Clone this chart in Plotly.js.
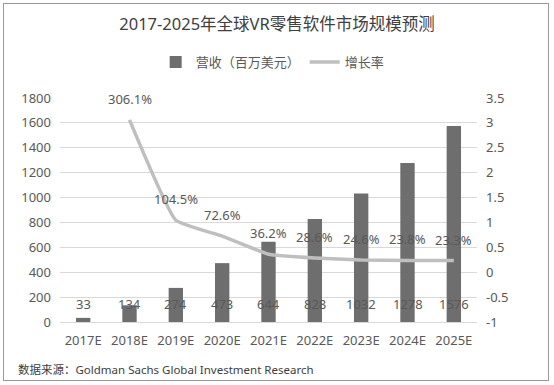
<!DOCTYPE html>
<html>
<head>
<meta charset="utf-8">
<script src="https://cdn.plot.ly/plotly-3.0.1.min.js"></script>
<style>
  body { margin: 0; background: #fff; }
  #wrap { position: relative; width: 554px; height: 385px; }
  #chart { width: 554px; height: 385px; }
  #frame { position: absolute; left: 3px; top: 3px; width: 544px; height: 376px;
           border: 1.5px solid #9a9a9a; pointer-events: none; }
</style>
</head>
<body>
<div id="wrap"><div id="chart"></div><div id="frame"></div></div>
<script>
const categories = ['2017E','2018E','2019E','2020E','2021E','2022E','2023E','2024E','2025E'];
const revenue = [33, 134, 274, 473, 644, 828, 1032, 1278, 1576];
const growth = [null, 3.061, 1.045, 0.726, 0.362, 0.286, 0.246, 0.238, 0.233];
const leftTicks = [0, 200, 400, 600, 800, 1000, 1200, 1400, 1600, 1800];
const rightTicks = [-1, -0.5, 0, 0.5, 1, 1.5, 2, 2.5, 3, 3.5];

const FONT = 'Noto Sans, Noto Sans CJK SC, sans-serif';
const TXT = '#595959';

const traces = [
  {
    type: 'bar', name: '营收（百万美元）', x: categories, y: revenue,
    marker: { color: '#6e6e6e' }, hoverinfo: 'skip'
  },
  {
    type: 'scatter', mode: 'lines', name: '增长率', x: categories, y: growth,
    yaxis: 'y2', line: { color: '#bfbfbf', width: 3.5, shape: 'spline', smoothing: 0.35 },
    connectgaps: false, hoverinfo: 'skip'
  }
];

const annotations = [];
categories.forEach((c, i) => {
  annotations.push({
    x: c, y: 0, xref: 'x', yref: 'y', yshift: 18, text: String(revenue[i]),
    showarrow: false, font: { family: FONT, size: 13, color: TXT }
  });
  if (growth[i] !== null) {
    annotations.push({
      x: c, y: growth[i], xref: 'x', yref: 'y2', yshift: 21,
      text: (growth[i] * 100).toFixed(1) + '%',
      showarrow: false, font: { family: FONT, size: 13, color: TXT }
    });
  }
});
annotations.push({
  xref: 'paper', yref: 'paper', x: -0.106, y: -0.21, xanchor: 'left', yanchor: 'middle',
  text: '数据来源：Goldman Sachs Global Investment Research', showarrow: false,
  font: { family: FONT, size: 11.5, color: '#404040' }
});

const layout = {
  width: 554, height: 385,
  margin: { l: 60, r: 77, t: 98, b: 63 },
  paper_bgcolor: '#ffffff', plot_bgcolor: '#ffffff',
  font: { family: FONT, color: TXT, size: 13 },
  title: {
    text: '2017-2025年全球VR零售软件市场规模预测',
    font: { family: FONT, size: 16.5, color: '#404040', weight: 'normal' },
    x: 0.5, xanchor: 'center', y: 0.937, yanchor: 'middle', yref: 'container'
  },
  showlegend: true,
  legend: {
    orientation: 'h', x: 0.51, xanchor: 'center', y: 1.16, yanchor: 'middle',
    font: { family: FONT, size: 13, color: TXT }, traceorder: 'normal'
  },
  bargap: 0.69,
  xaxis: {
    type: 'category', showgrid: false, zeroline: false, showline: false, ticks: '',
    ticklabelstandoff: 9,
    tickfont: { family: FONT, size: 13, color: TXT }, fixedrange: true
  },
  yaxis: {
    range: [0, 1800], tickvals: leftTicks, ticktext: leftTicks.map(String),
    showgrid: true, gridcolor: '#d9d9d9', gridwidth: 1, zeroline: true,
    zerolinecolor: '#d9d9d9', zerolinewidth: 1, showline: false, ticks: '',
    ticklabelstandoff: 8, tickfont: { family: FONT, size: 13, color: TXT }
  },
  yaxis2: {
    overlaying: 'y', side: 'right', range: [-1, 3.5], tickvals: rightTicks,
    ticktext: rightTicks.map(String), showgrid: false, zeroline: false,
    showline: false, ticks: '', ticklabelstandoff: 8,
    tickfont: { family: FONT, size: 13, color: TXT }
  },
  annotations: annotations
};

Plotly.newPlot('chart', traces, layout, { displayModeBar: false, staticPlot: true });
</script>
</body>
</html>
